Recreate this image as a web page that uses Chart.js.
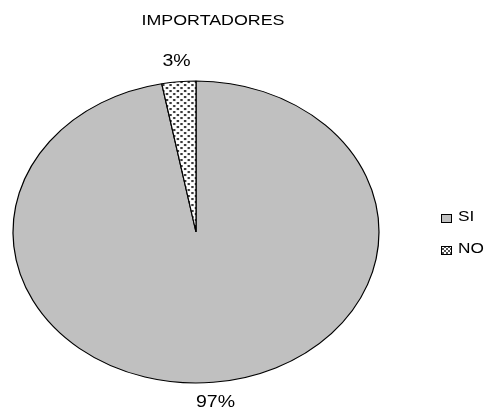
<!DOCTYPE html>
<html>
<head>
<meta charset="utf-8">
<script src="https://cdn.jsdelivr.net/npm/chart.js@4"></script>
<style>
  html, body { margin: 0; padding: 0; background: #fff; }
  #chart { display: block; }
</style>
</head>
<body>
<canvas id="chart" width="490" height="408"></canvas>
<script>
// Datos del gráfico
const titulo = 'IMPORTADORES';
const categorias = ['SI', 'NO'];
const valores = [97, 3];
const etiquetas = ['97%', '3%'];

// El original está estirado en horizontal (elipse)
const STRETCH_X = 183 / 151;
const FONT = '"Liberation Sans", Arial, sans-serif';

// Relleno punteado (sector y muestra de leyenda)
function makeDotPattern(size, dot, bg, fg) {
    const c = document.createElement('canvas');
    c.width = size;
    c.height = size;
    const g = c.getContext('2d');
    g.fillStyle = bg;
    g.fillRect(0, 0, size, size);
    g.fillStyle = fg;
    g.fillRect(0, 0, dot, dot);
    g.fillRect(size / 2, size / 2, dot, dot);
    return g.createPattern(c, 'repeat');
}

const dotPattern = makeDotPattern(6, 2, '#ffffff', '#3a3a3a');
const swatchPattern = makeDotPattern(4, 2, '#555555', '#ffffff');
const colores = ['#c0c0c0', dotPattern];
const coloresLeyenda = ['#c0c0c0', swatchPattern];

// Dibuja texto estirado horizontalmente como en el original
function stretchedText(ctx, text, x, y, size, sx, align = 'center') {
    ctx.save();
    ctx.translate(x, y);
    ctx.scale(sx, 1);
    ctx.font = `${size}px ${FONT}`;
    ctx.fillStyle = '#000';
    ctx.textAlign = align;
    ctx.textBaseline = 'middle';
    ctx.fillText(text, 0, 0);
    ctx.restore();
}

const ellipsePlugin = {
    id: 'ellipse',
    beforeDatasetsDraw(chart) {
        const arc = chart.getDatasetMeta(0).data[0];
        const ctx = chart.ctx;
        ctx.save();
        ctx.translate(arc.x, 0);
        ctx.scale(STRETCH_X, 1);
        ctx.translate(-arc.x, 0);
    },
    afterDatasetsDraw(chart) {
        chart.ctx.restore();
    },
    afterDraw(chart) {
        const ctx = chart.ctx;
        const meta = chart.getDatasetMeta(0);

        // título
        stretchedText(ctx, titulo, 213, 21, 15.5, 1.15);

        // porcentajes fuera de cada sector
        meta.data.forEach((arc, i) => {
            const mid = (arc.startAngle + arc.endAngle) / 2;
            const r = arc.outerRadius + 20;
            const x = arc.x + Math.cos(mid) * r * STRETCH_X;
            const y = arc.y + Math.sin(mid) * r;
            stretchedText(ctx, etiquetas[i], x, y, 16, 1.22);
        });

        // leyenda
        categorias.forEach((cat, i) => {
            const top = 214 + i * 32;
            ctx.save();
            ctx.fillStyle = coloresLeyenda[i];
            ctx.fillRect(441, top, 11, 8);
            ctx.strokeStyle = '#000';
            ctx.lineWidth = 1;
            ctx.strokeRect(441.5, top + 0.5, 10, 8);
            ctx.restore();
            stretchedText(ctx, cat, 458, top + 3, 15, 1.15, 'left');
        });
    }
};

new Chart(document.getElementById('chart'), {
    type: 'pie',
    data: {
        labels: categorias,
        datasets: [{
            data: valores,
            backgroundColor: colores,
            borderColor: '#000',
            borderWidth: 1,
            hoverOffset: 0
        }]
    },
    options: {
        responsive: false,
        animation: false,
        radius: 151,
        layout: { padding: { left: 45, right: 143, top: 81, bottom: 25 } },
        plugins: {
            legend: { display: false },
            title: { display: false },
            tooltip: { enabled: false }
        }
    },
    plugins: [ellipsePlugin]
});
</script>
</body>
</html>
